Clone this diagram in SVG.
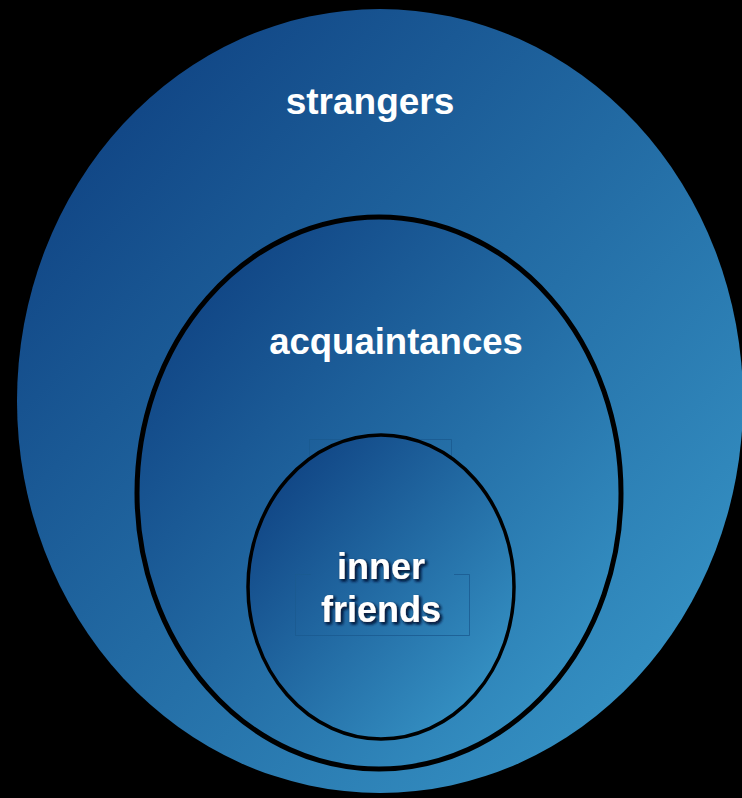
<svg xmlns="http://www.w3.org/2000/svg" width="742" height="798" viewBox="0 0 742 798">
  <defs>
    <linearGradient id="g" x1="0.15" y1="0.15" x2="0.9" y2="0.9">
      <stop offset="0" stop-color="#124887"/>
      <stop offset="0.45" stop-color="#226aa3"/>
      <stop offset="1" stop-color="#3693c5"/>
    </linearGradient>
    <filter id="sh" x="-20%" y="-20%" width="140%" height="140%">
      <feGaussianBlur in="SourceAlpha" stdDeviation="1.5"/>
      <feOffset dx="2" dy="2" result="b"/>
      <feFlood flood-color="#0a2344"/>
      <feComposite in2="b" operator="in"/>
      <feMerge><feMergeNode/><feMergeNode/><feMergeNode in="SourceGraphic"/></feMerge>
    </filter>
    <style>
      .lbl { font-family: "Liberation Sans", Arial, sans-serif; font-weight: bold; fill: #ffffff; text-anchor: middle; }
      .ring { fill: url(#g); stroke: #000; }
      .ghost { fill: none; stroke: #1a5a90; stroke-width: 1; stroke-opacity: 0.8; }
    </style>
  </defs>
  <rect x="0" y="0" width="742" height="798" fill="#000"/>
  <g id="strangers">
    <ellipse class="ring" cx="380" cy="401" rx="363" ry="392" stroke-width="0"/>
    <text class="lbl" x="370" y="114" font-size="37">strangers</text>
  </g>
  <g id="acquaintances">
    <ellipse class="ring" cx="379" cy="493" rx="242" ry="276" stroke-width="5"/>
    <text class="lbl" x="396" y="354" font-size="36.5">acquaintances</text>
  </g>
  <g id="inner-friends">
    <polyline class="ghost" points="309.5,470 309.5,439.5 451.5,439.5 451.5,470"/>
    <ellipse class="ring" cx="381" cy="587" rx="133" ry="152" stroke-width="3.5"/>
    <polyline class="ghost" points="311,574.5 295.5,574.5 295.5,635.5 469.5,635.5 469.5,574.5 454,574.5"/>
    <g filter="url(#sh)">
      <text class="lbl" x="381" y="579" font-size="36">inner</text>
      <text class="lbl" x="381" y="622" font-size="36">friends</text>
    </g>
  </g>
  <g id="connectors"/>
</svg>
